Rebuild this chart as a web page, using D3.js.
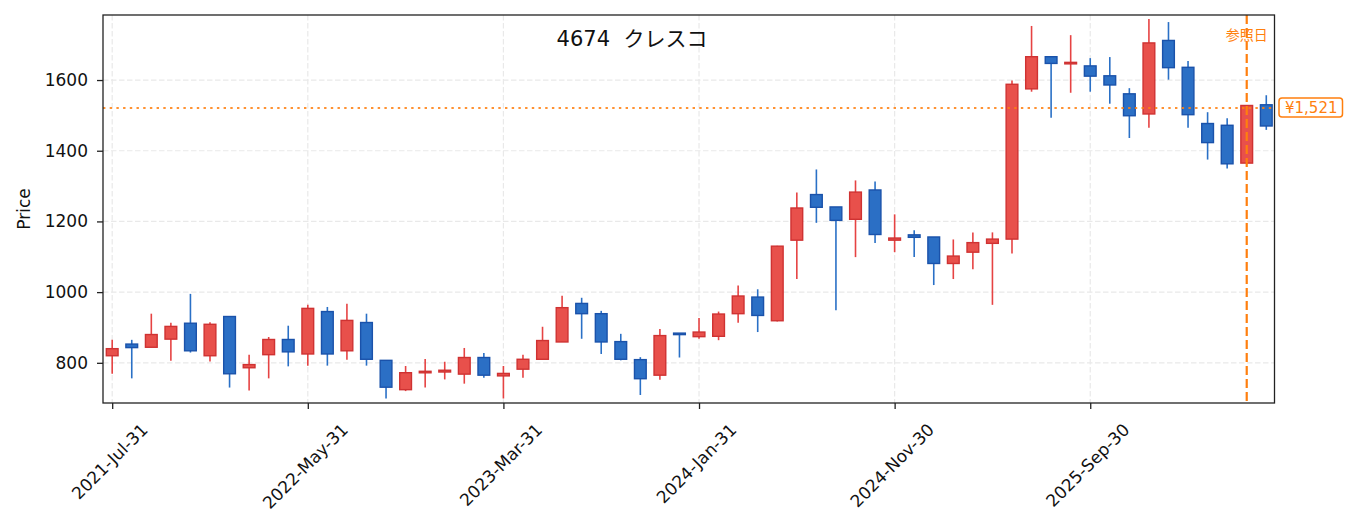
<!DOCTYPE html>
<html>
<head>
<meta charset="utf-8">
<script src="https://cdn.jsdelivr.net/npm/d3@7"></script>
<style>
  body { margin: 0; background: #fff; }
  svg { display: block; }
  text { font-family: "DejaVu Sans", "Noto Sans CJK JP", sans-serif; }
</style>
</head>
<body>
<script>
// monthly candles (month-end dates)
const dates = [
  "2021-07-31","2021-08-31","2021-09-30","2021-10-31","2021-11-30","2021-12-31",
  "2022-01-31","2022-02-28","2022-03-31","2022-04-30","2022-05-31","2022-06-30",
  "2022-07-31","2022-08-31","2022-09-30","2022-10-31","2022-11-30","2022-12-31",
  "2023-01-31","2023-02-28","2023-03-31","2023-04-30","2023-05-31","2023-06-30",
  "2023-07-31","2023-08-31","2023-09-30","2023-10-31","2023-11-30","2023-12-31",
  "2024-01-31","2024-02-29","2024-03-31","2024-04-30","2024-05-31","2024-06-30",
  "2024-07-31","2024-08-31","2024-09-30","2024-10-31","2024-11-30","2024-12-31",
  "2025-01-31","2025-02-28","2025-03-31","2025-04-30","2025-05-31","2025-06-30",
  "2025-07-31","2025-08-31","2025-09-30","2025-10-31","2025-11-30","2025-12-31",
  "2026-01-31","2026-02-28","2026-03-31","2026-04-30","2026-05-31","2026-06-30"
];
const open = [820,853,844,867,912,820,931,786,823,866, 825,945,834,914,807,724,772,774,768,815,
              763,782,810,859,968,939,860,809,765,884, 874,875,939,986,919,1147,1276,1241,1206,1289,
              1147,1162,1156,1081,1113,1138,1150,1575,1666,1648, 1640,1612,1561,1504,1712,1636,1477,1472,1365,1530];
const high = [865,865,939,913,995,915,931,823,873,905, 964,958,967,939,807,791,811,803,842,828,
              791,823,902,990,984,947,882,816,896,884, 927,945,1019,1008,1131,1282,1347,1241,1316,1313,
              1220,1175,1156,1149,1169,1169,1599,1753,1666,1727, 1662,1665,1577,1773,1764,1654,1509,1492,1528,1557];
const low  = [769,756,844,806,829,804,730,722,756,790, 792,792,809,792,699,720,730,753,741,758,
              699,758,810,859,868,825,807,709,752,815, 868,864,913,887,917,1037,1196,949,1099,1139,
              1113,1099,1020,1037,1065,964,1109,1567,1493,1564, 1567,1533,1436,1465,1601,1465,1375,1350,1363,1459];
const close = [840,843,880,903,834,909,769,795,866,831, 954,825,920,810,731,772,776,779,815,765,
               770,810,863,956,939,859,810,755,877,882, 887,938,989,934,1130,1238,1240,1203,1283,1163,
               1153,1155,1081,1102,1140,1150,1588,1666,1647,1650, 1611,1586,1499,1705,1635,1502,1423,1363,1528,1470];

const xTickIdx = [0, 10, 20, 30, 40, 50];
const yTicks = [800, 1000, 1200, 1400, 1600];
const titleText = "4674  クレスコ";
const refIndex = 58;          // 参照日
const refPrice = 1521;

function renderChart() {
    const width = 1353, height = 531;
    const plot = {left: 103, right: 1274.5, top: 15, bottom: 403};

    const svg = d3.select('body').append('svg')
        .attr('width', width)
        .attr('height', height);

    const x = d3.scaleLinear().domain([-0.47, 59.42]).range([plot.left, plot.right]);
    const y = d3.scaleLinear().domain([686.3, 1784]).range([plot.bottom, plot.top]);

    const parse = d3.timeParse('%Y-%m-%d');
    const fmt = d3.timeFormat('%Y-%b-%d');

    const candles = dates.map((d, i) => ({i, o: open[i], h: high[i], l: low[i], c: close[i]}));

    // grid
    const grid = svg.append('g');
    grid.selectAll('line.gy').data(yTicks).enter().append('line')
        .attr('x1', plot.left).attr('x2', plot.right)
        .attr('y1', d => y(d)).attr('y2', d => y(d))
        .attr('stroke', '#e9e9e9').attr('stroke-width', 1.2).attr('stroke-dasharray', '5.5,2.5');
    grid.selectAll('line.gx').data(xTickIdx).enter().append('line')
        .attr('y1', plot.top).attr('y2', plot.bottom)
        .attr('x1', d => x(d)).attr('x2', d => x(d))
        .attr('stroke', '#e9e9e9').attr('stroke-width', 1.2).attr('stroke-dasharray', '5.5,2.5');

    // wicks
    const up = d => d.c >= d.o;
    svg.append('g').selectAll('line').data(candles).enter().append('line')
        .attr('x1', d => x(d.i)).attr('x2', d => x(d.i))
        .attr('y1', d => y(d.h)).attr('y2', d => y(d.l))
        .attr('stroke', d => up(d) ? '#e64343' : '#2a70c6')
        .attr('stroke-width', 1.6);

    // bodies
    const bw = (x(1) - x(0)) * 0.6;
    svg.append('g').selectAll('rect').data(candles).enter().append('rect')
        .attr('x', d => x(d.i) - bw / 2)
        .attr('width', bw)
        .attr('y', d => y(Math.max(d.o, d.c)))
        .attr('height', d => Math.max(1.5, Math.abs(y(d.o) - y(d.c))))
        .attr('fill', d => up(d) ? '#e8504b' : '#2b6fc5')
        .attr('stroke', d => up(d) ? '#cf3232' : '#1a52aa')
        .attr('stroke-width', 1.4);

    // reference price line
    svg.append('line')
        .attr('x1', plot.left).attr('x2', plot.right)
        .attr('y1', y(refPrice)).attr('y2', y(refPrice))
        .attr('stroke', '#ff7f0e').attr('stroke-opacity', 0.85)
        .attr('stroke-width', 2).attr('stroke-dasharray', '2.4,4.3');

    // reference date line
    svg.append('line')
        .attr('x1', x(refIndex)).attr('x2', x(refIndex))
        .attr('y1', plot.top).attr('y2', plot.bottom)
        .attr('stroke', '#ff7f0e').attr('stroke-width', 2.2).attr('stroke-dasharray', '9,4');

    svg.append('text')
        .attr('x', x(refIndex)).attr('y', 40)
        .attr('text-anchor', 'middle')
        .attr('font-size', '14px')
        .attr('fill', '#ff7f0e')
        .text('参照日');

    // frame
    svg.append('rect')
        .attr('x', plot.left).attr('y', plot.top)
        .attr('width', plot.right - plot.left).attr('height', plot.bottom - plot.top)
        .attr('fill', 'none').attr('stroke', '#222').attr('stroke-width', 1.3);

    // axes
    const xAxis = svg.append('g')
        .attr('transform', `translate(0,${plot.bottom})`)
        .call(d3.axisBottom(x).tickValues(xTickIdx).tickSize(6).tickSizeOuter(0)
            .tickFormat(i => fmt(parse(dates[i]))));
    xAxis.select('.domain').remove();
    xAxis.selectAll('.tick line').attr('stroke', '#222').attr('stroke-width', 1.3);
    xAxis.selectAll('.tick text')
        .attr('font-size', '17px').attr('fill', '#111')
        .attr('dy', null)
        .attr('text-anchor', 'middle')
        .attr('dominant-baseline', 'central')
        .each(function() {
            const w = this.getComputedTextLength();
            const cy = 19 + (w + 13) / (2 * Math.SQRT2);
            d3.select(this).attr('x', -3).attr('y', cy)
                .attr('transform', `rotate(-45, -3, ${cy})`);
        });

    const yAxis = svg.append('g')
        .attr('transform', `translate(${plot.left},0)`)
        .call(d3.axisLeft(y).tickValues(yTicks).tickSize(6).tickSizeOuter(0)
            .tickFormat(d3.format('d')));
    yAxis.select('.domain').remove();
    yAxis.selectAll('.tick line').attr('stroke', '#222').attr('stroke-width', 1.3);
    yAxis.selectAll('.tick text').attr('font-size', '17px').attr('fill', '#111').attr('x', -15);

    svg.append('text')
        .attr('transform', `translate(30,${(plot.top + plot.bottom) / 2}) rotate(-90)`)
        .attr('text-anchor', 'middle')
        .attr('font-size', '17px').attr('fill', '#111')
        .text('Price');

    // title
    svg.append('text')
        .attr('x', 632).attr('y', 46)
        .attr('text-anchor', 'middle')
        .attr('font-size', '21px').attr('fill', '#111')
        .style('white-space', 'pre')
        .text(titleText);

    // price tag
    const tag = svg.append('g').attr('transform', `translate(1279,${y(refPrice)})`);
    const tagText = tag.append('text')
        .attr('x', 6).attr('y', 0).attr('dy', '0.36em')
        .attr('font-size', '15px').attr('fill', '#ff7f0e')
        .text('¥' + d3.format(',')(refPrice));
    const tw = tagText.node().getComputedTextLength();
    tag.insert('rect', 'text')
        .attr('x', 0).attr('y', -10).attr('width', tw + 11).attr('height', 19)
        .attr('rx', 3).attr('fill', '#fff')
        .attr('stroke', '#ff7f0e').attr('stroke-width', 1.5);
}

window.addEventListener('load', function() {
    requestAnimationFrame(renderChart);
});
</script>
</body>
</html>
